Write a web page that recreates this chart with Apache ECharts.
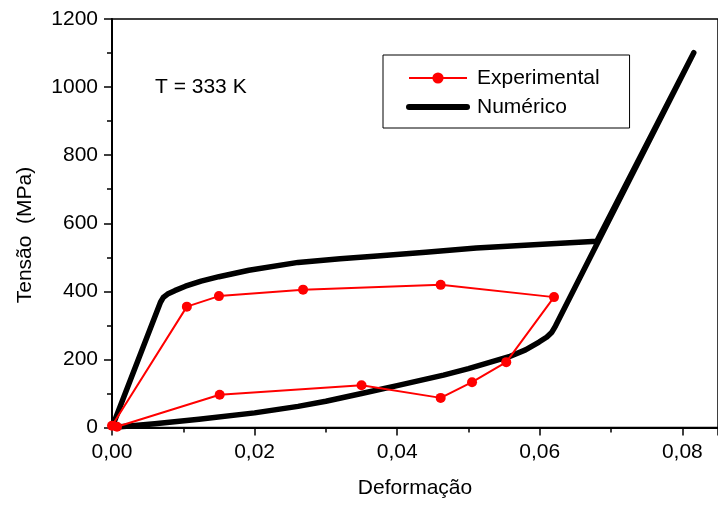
<!DOCTYPE html>
<html>
<head>
<meta charset="utf-8">
<script src="https://cdn.jsdelivr.net/npm/echarts@6/dist/echarts.min.js"></script>
<style>html,body{margin:0;padding:0;background:#fff;}#c{width:718px;height:505px;}</style>
</head>
<body>
<div id="c"></div>
<script>
// Numérico (loading, plateau, elastic branch, unloading back to origin)
const numX = [0, 0.0068, 0.0072, 0.0078, 0.0088, 0.0103, 0.0125, 0.015, 0.0192, 0.0261, 0.032, 0.0372, 0.044, 0.0511, 0.0604, 0.068,
              0.0816,
              0.0622, 0.0617, 0.061, 0.0599, 0.058, 0.0557, 0.05, 0.0465, 0.04, 0.035, 0.03, 0.0261, 0.02, 0.0122, 0.006, 0];
const numY = [0, 368, 382, 392, 402, 415, 430, 443, 462, 485, 496, 504, 515, 527, 538, 547,
              1101,
              298, 280, 266, 251, 228, 208, 173, 154, 123, 100, 77, 62, 43, 24, 11, 0];
// Experimental
const expX = [0, 0.0105, 0.015, 0.0268, 0.0461, 0.062, 0.0553, 0.0505, 0.0461, 0.035, 0.0151, 0.0007];
const expY = [5, 355, 386, 405, 419, 383, 192, 133, 87, 124, 96, 2];
const xTicks = {min: 0, max: 0.085, interval: 0.02};
const yTicks = {min: 0, max: 1200, interval: 200};
const legendNames = ['Experimental', 'Numérico'];

const FONT = 'Liberation Sans';
const chart = echarts.init(document.getElementById('c'), null, {renderer: 'canvas'});
const zip = (a, b) => a.map((v, i) => [v, b[i]]);
chart.setOption({
  animation: false,
  backgroundColor: '#fff',
  textStyle: {fontFamily: FONT},
  grid: {left: 112, top: 19, right: -6, bottom: 77.5, show: true, borderColor: '#000', borderWidth: 1.5, backgroundColor: 'transparent'},
  legend: {
    data: [
      {name: legendNames[0]},
      {name: legendNames[1], itemStyle: {opacity: 0, color: 'rgba(0,0,0,0)', borderWidth: 0}, lineStyle: {width: 6, color: '#000', cap: 'round'}}
    ],
    orient: 'vertical', left: 383, top: 55,
    padding: [12, 30, 10, 23],
    itemWidth: 58, itemHeight: 14, itemGap: 7,
    borderColor: '#000', borderWidth: 1,
    textStyle: {fontFamily: FONT, fontSize: 21, color: '#000', lineHeight: 22, padding: [0, 0, 0, 5]}
  },
  xAxis: {
    type: 'value', min: xTicks.min, max: xTicks.max, interval: xTicks.interval,
    name: 'Deformação', nameLocation: 'middle', nameGap: 50,
    nameTextStyle: {fontFamily: FONT, fontSize: 21, color: '#000'},
    axisLine: {show: true, lineStyle: {color: '#000', width: 2}},
    axisTick: {show: true, inside: false, length: 8, lineStyle: {color: '#000', width: 1.5}},
    minorTick: {show: true, splitNumber: 2, length: 5, lineStyle: {color: '#000', width: 1.5}},
    splitLine: {show: false},
    axisLabel: {fontFamily: FONT, fontSize: 21, color: '#000', margin: 14,
      formatter: v => v.toFixed(2).replace('.', ',')}
  },
  yAxis: {
    type: 'value', min: yTicks.min, max: yTicks.max, interval: yTicks.interval,
    axisLine: {show: true, lineStyle: {color: '#000', width: 2}},
    axisTick: {show: true, inside: false, length: 8, lineStyle: {color: '#000', width: 1.5}},
    minorTick: {show: true, splitNumber: 2, length: 5, lineStyle: {color: '#000', width: 1.5}},
    splitLine: {show: false},
    axisLabel: {fontFamily: FONT, fontSize: 21, color: '#000', margin: 14, formatter: v => String(v)}
  },
  graphic: [
    {
      type: 'text', left: 155, top: 77,
      style: {text: 'T = 333 K', fontFamily: FONT, fontSize: 21, fill: '#000'}
    },
    {
      type: 'text', x: 25, y: 235, rotation: Math.PI / 2,
      style: {text: 'Tensão  (MPa)', fontFamily: FONT, fontSize: 21, fill: '#000', align: 'center', verticalAlign: 'middle'}
    }
  ],
  series: [
    {
      name: legendNames[0], type: 'line', data: zip(expX, expY),
      symbol: 'circle', symbolSize: 10, z: 3,
      lineStyle: {color: '#ff0000', width: 2},
      itemStyle: {color: '#ff0000'}
    },
    {
      name: legendNames[1], type: 'line', data: zip(numX, numY),
      symbol: 'none', smooth: false, z: 2,
      lineStyle: {color: '#000', width: 5.5, join: 'round', cap: 'round'},
      itemStyle: {color: '#000'}
    }
  ]
});
</script>
</body>
</html>
